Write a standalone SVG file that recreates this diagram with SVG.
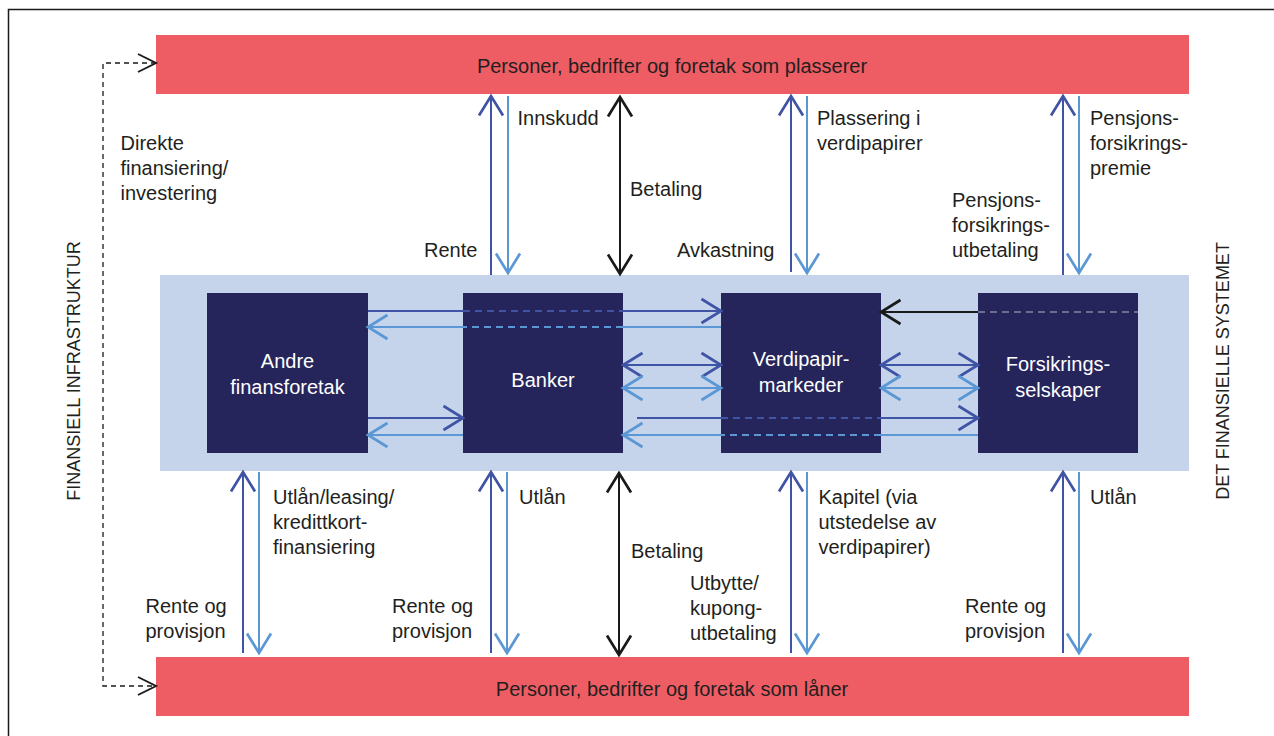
<svg xmlns="http://www.w3.org/2000/svg" width="1274" height="736" viewBox="0 0 1274 736">
  <style>
    .lbl { font-family: "Liberation Sans", Arial, sans-serif; font-size: 20px; fill: #231f20; }
    .bar { fill: #ef5d64; }
    .barText { font-family: "Liberation Sans", Arial, sans-serif; font-size: 20px; fill: #231f20; text-anchor: middle; }
    .node { fill: #25255c; }
    .nodeText { font-family: "Liberation Sans", Arial, sans-serif; font-size: 20px; fill: #ffffff; text-anchor: middle; }
    .side { font-family: "Liberation Sans", Arial, sans-serif; font-size: 18px; fill: #231f20; text-anchor: middle; }
    .dk { stroke: #4054a6; stroke-width: 2; fill: none; }
    .lt { stroke: #5a97d4; stroke-width: 2; fill: none; }
    .bk { stroke: #1a1a1a; stroke-width: 2; fill: none; }
    .dash { stroke-dasharray: 7 5; }
    .gray { stroke: #6e6e8c; stroke-width: 2; fill: none; stroke-dasharray: 7 5; }
    .dir { stroke: #1a1a1a; stroke-width: 1.3; fill: none; stroke-dasharray: 5 4; }
  </style>
  <defs>
    <marker id="aDk" markerUnits="userSpaceOnUse" markerWidth="30" markerHeight="30" viewBox="-15 -10 20 20" refX="0" refY="0" orient="auto-start-reverse">
      <path d="M-13,-8 L0,0 L-13,8" fill="none" stroke="#4054a6" stroke-width="1.8"/>
    </marker>
    <marker id="aLt" markerUnits="userSpaceOnUse" markerWidth="30" markerHeight="30" viewBox="-15 -10 20 20" refX="0" refY="0" orient="auto-start-reverse">
      <path d="M-13,-8 L0,0 L-13,8" fill="none" stroke="#5a97d4" stroke-width="1.8"/>
    </marker>
    <marker id="aBk" markerUnits="userSpaceOnUse" markerWidth="30" markerHeight="30" viewBox="-15 -10 20 20" refX="0" refY="0" orient="auto-start-reverse">
      <path d="M-13,-8 L0,0 L-13,8" fill="none" stroke="#1a1a1a" stroke-width="1.8"/>
    </marker>
    <marker id="aDir" markerUnits="userSpaceOnUse" markerWidth="30" markerHeight="30" viewBox="-15 -10 20 20" refX="0" refY="0" orient="auto-start-reverse">
      <path d="M-12,-6 L0,0 L-12,6" fill="none" stroke="#1a1a1a" stroke-width="1.3"/>
    </marker>
  </defs>

  <rect width="1274" height="736" fill="#ffffff"/>
  <path d="M8.5,736 V9.5 H1274" fill="none" stroke="#1a1a1a" stroke-width="1.5"/>

  <!-- financial system panel -->
  <rect id="panel" x="160" y="275" width="1029" height="196" fill="#c5d4ea"/>

  <g id="top-bar">
    <rect class="bar" x="156" y="35" width="1033" height="59"/>
    <text class="barText" x="672" y="73">Personer, bedrifter og foretak som plasserer</text>
  </g>
  <g id="bottom-bar">
    <rect class="bar" x="156" y="657" width="1033" height="59"/>
    <text class="barText" x="672" y="696">Personer, bedrifter og foretak som låner</text>
  </g>

  <g id="andre">
    <rect class="node" x="207" y="293" width="161" height="160"/>
    <text class="nodeText" x="287.5" y="368">Andre</text>
    <text class="nodeText" x="287.5" y="394">finansforetak</text>
  </g>
  <g id="banker">
    <rect class="node" x="463" y="293" width="160" height="160"/>
    <text class="nodeText" x="543" y="387">Banker</text>
  </g>
  <g id="verdipapir">
    <rect class="node" x="721" y="293" width="160" height="160"/>
    <text class="nodeText" x="801" y="366">Verdipapir-</text>
    <text class="nodeText" x="801" y="392">markeder</text>
  </g>
  <g id="forsikring">
    <rect class="node" x="978" y="293" width="160" height="160"/>
    <text class="nodeText" x="1058" y="371">Forsikrings-</text>
    <text class="nodeText" x="1058" y="397">selskaper</text>
  </g>

  <g id="connectors">
    <!-- direct financing -->
    <path class="dir" d="M156,63 H103 V686 H156" marker-start="url(#aDir)" marker-end="url(#aDir)"/>

    <!-- top vertical arrows -->
    <path class="dk" d="M491,275 V96" marker-end="url(#aDk)"/>
    <path class="lt" d="M508,96 V273" marker-end="url(#aLt)"/>
    <path class="bk" d="M620,97 V274" marker-start="url(#aBk)" marker-end="url(#aBk)"/>
    <path class="dk" d="M791,272 V96" marker-end="url(#aDk)"/>
    <path class="lt" d="M807,96 V273" marker-end="url(#aLt)"/>
    <path class="dk" d="M1063,275 V96" marker-end="url(#aDk)"/>
    <path class="lt" d="M1079,96 V273" marker-end="url(#aLt)"/>

    <!-- bottom vertical arrows -->
    <path class="dk" d="M243,653 V472" marker-end="url(#aDk)"/>
    <path class="lt" d="M259,472 V653" marker-end="url(#aLt)"/>
    <path class="dk" d="M491,653 V472" marker-end="url(#aDk)"/>
    <path class="lt" d="M507,472 V653" marker-end="url(#aLt)"/>
    <path class="bk" d="M619,473 V655" marker-start="url(#aBk)" marker-end="url(#aBk)"/>
    <path class="dk" d="M791,653 V472" marker-end="url(#aDk)"/>
    <path class="lt" d="M807,472 V653" marker-end="url(#aLt)"/>
    <path class="dk" d="M1063,653 V472" marker-end="url(#aDk)"/>
    <path class="lt" d="M1079,472 V653" marker-end="url(#aLt)"/>

    <!-- row 1: Andre -> Verdipapir (dark) -->
    <path class="dk" d="M368,311 H463"/>
    <path class="dk dash" d="M463,311 H623"/>
    <path class="dk" d="M623,311 H721" marker-end="url(#aDk)"/>
    <!-- row 2: Verdipapir -> Andre (light) -->
    <path class="lt" d="M721,327 H623"/>
    <path class="lt dash" d="M623,327 H463"/>
    <path class="lt" d="M463,327 H368" marker-end="url(#aLt)"/>
    <!-- black: Forsikring -> Verdipapir -->
    <path class="bk" d="M978,312 H881" marker-end="url(#aBk)"/>
    <path class="gray" d="M978,312 H1138"/>

    <!-- row 3/4: double arrows -->
    <path class="dk" d="M623,365 H721" marker-start="url(#aDk)" marker-end="url(#aDk)"/>
    <path class="dk" d="M881,365 H978" marker-start="url(#aDk)" marker-end="url(#aDk)"/>
    <path class="lt" d="M623,388 H721" marker-start="url(#aLt)" marker-end="url(#aLt)"/>
    <path class="lt" d="M881,388 H978" marker-start="url(#aLt)" marker-end="url(#aLt)"/>

    <!-- row 5 (dark) -->
    <path class="dk" d="M368,418 H463" marker-end="url(#aDk)"/>
    <path class="dk" d="M637,418 H721"/>
    <path class="dk dash" d="M721,418 H881"/>
    <path class="dk" d="M881,418 H978" marker-end="url(#aDk)"/>
    <!-- row 6 (light) -->
    <path class="lt" d="M463,435 H368" marker-end="url(#aLt)"/>
    <path class="lt" d="M978,435 H881"/>
    <path class="lt dash" d="M881,435 H721"/>
    <path class="lt" d="M721,435 H623" marker-end="url(#aLt)"/>
  </g>

  <g id="labels">
    <text class="lbl" x="120.5"><tspan x="120.5" y="150">Direkte</tspan><tspan x="120.5" y="175">finansiering/</tspan><tspan x="120.5" y="200">investering</tspan></text>
    <text class="lbl" x="517.5" y="125">Innskudd</text>
    <text class="lbl" x="630" y="196">Betaling</text>
    <text class="lbl" x="424" y="257">Rente</text>
    <text class="lbl" x="677" y="257">Avkastning</text>
    <text class="lbl"><tspan x="817" y="125">Plassering i</tspan><tspan x="817" y="150">verdipapirer</tspan></text>
    <text class="lbl"><tspan x="1090" y="125">Pensjons-</tspan><tspan x="1090" y="150">forsikrings-</tspan><tspan x="1090" y="175">premie</tspan></text>
    <text class="lbl"><tspan x="952" y="207">Pensjons-</tspan><tspan x="952" y="232">forsikrings-</tspan><tspan x="952" y="257">utbetaling</tspan></text>

    <text class="lbl"><tspan x="273" y="504">Utlån/leasing/</tspan><tspan x="273" y="529">kredittkort-</tspan><tspan x="273" y="554">finansiering</tspan></text>
    <text class="lbl"><tspan x="145.5" y="613">Rente og</tspan><tspan x="145.5" y="638">provisjon</tspan></text>
    <text class="lbl" x="519" y="504">Utlån</text>
    <text class="lbl"><tspan x="392" y="613">Rente og</tspan><tspan x="392" y="638">provisjon</tspan></text>
    <text class="lbl" x="631" y="558">Betaling</text>
    <text class="lbl"><tspan x="690" y="590">Utbytte/</tspan><tspan x="690" y="615">kupong-</tspan><tspan x="690" y="640">utbetaling</tspan></text>
    <text class="lbl"><tspan x="818.5" y="504">Kapitel (via</tspan><tspan x="818.5" y="529">utstedelse av</tspan><tspan x="818.5" y="554">verdipapirer)</tspan></text>
    <text class="lbl" x="1090" y="504">Utlån</text>
    <text class="lbl"><tspan x="965" y="613">Rente og</tspan><tspan x="965" y="638">provisjon</tspan></text>

    <text class="side" transform="translate(80,371) rotate(-90)">FINANSIELL INFRASTRUKTUR</text>
    <text class="side" transform="translate(1229,371) rotate(-90)">DET FINANSIELLE SYSTEMET</text>
  </g>
</svg>
